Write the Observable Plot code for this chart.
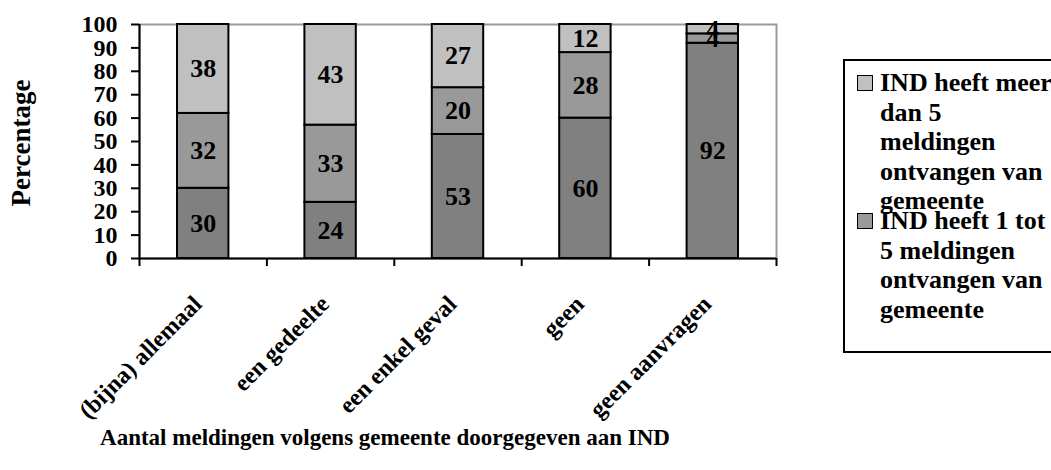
<!DOCTYPE html>
<html><head><meta charset="utf-8">
<script src="https://cdn.jsdelivr.net/npm/d3@7"></script>
<script src="https://cdn.jsdelivr.net/npm/@observablehq/plot@0.6"></script>
<style>
html,body{margin:0;padding:0;background:#fff;overflow:hidden;width:1051px;height:470px;}
#wrap{position:relative;width:1051px;height:470px;font-family:"Liberation Serif","Times New Roman",serif;font-weight:bold;color:#000;overflow:hidden;}
#wrap svg{position:absolute;left:0;top:0;}
.xtitle{position:absolute;left:0;width:770px;top:426px;line-height:24px;font-size:23px;text-align:center;white-space:nowrap;}
.ytitle{position:absolute;left:21px;top:143px;transform:translate(-50%,-50%) rotate(-90deg);font-size:27px;white-space:nowrap;line-height:27px;}
.legend{position:absolute;left:843px;top:59px;width:260px;height:294px;box-sizing:border-box;border:2px solid #000;background:#fff;}
.legend .sw{position:absolute;left:12px;width:16px;height:16px;box-sizing:border-box;border:1.5px solid #000;}
.legend .ln{position:absolute;left:35px;font-size:26px;line-height:29.5px;white-space:nowrap;}
</style></head><body><div id="wrap"></div>
<script>
const categories = ["(bijna) allemaal", "een gedeelte", "een enkel geval", "geen", "geen aanvragen"];
const seriesNames = [
  "IND heeft geen meldingen ontvangen van gemeente",
  "IND heeft 1 tot 5 meldingen ontvangen van gemeente",
  "IND heeft meer dan 5 meldingen ontvangen van gemeente"
];
const geenMeldingen = [30, 24, 53, 60, 92];
const eenTotVijf = [32, 33, 20, 28, 4];
const meerDanVijf = [38, 43, 27, 12, 4];
const yTicks = [0, 10, 20, 30, 40, 50, 60, 70, 80, 90, 100];
const xTitle = "Aantal meldingen volgens gemeente doorgegeven aan IND";
const yTitle = "Percentage";
const legendEntries = [
  {series: 2, lines: ["IND heeft meer", "dan 5", "meldingen", "ontvangen van", "gemeente"]},
  {series: 1, lines: ["IND heeft 1 tot", "5 meldingen", "ontvangen van", "gemeente"]}
];
const colors = ["#808080", "#999999", "#c0c0c0"];

const seriesValues = [geenMeldingen, eenTotVijf, meerDanVijf];
const rows = [];
categories.forEach((c, i) => {
  let acc = 0;
  seriesValues.forEach((vals, s) => {
    rows.push({cat: c, i0: i, i1: i + 1, series: seriesNames[s], value: vals[i], y1: acc, y2: acc + vals[i]});
    acc += vals[i];
  });
});

const plot = Plot.plot({
  width: 1051, height: 470,
  marginLeft: 139, marginRight: 275, marginTop: 24, marginBottom: 212,
  style: {fontFamily: '"Liberation Serif", "Times New Roman", serif', fontWeight: "bold", background: "transparent", color: "#000", overflow: "visible"},
  x: {domain: [0, categories.length], axis: null},
  y: {domain: [0, 100], axis: null},
  color: {domain: seriesNames, range: colors},
  marks: [
    Plot.frame({stroke: "#999", strokeWidth: 2}),
    Plot.rectY(rows, {x1: "i0", x2: "i1", y1: "y1", y2: "y2", fill: "series", stroke: "#000", strokeWidth: 2, insetLeft: 38, insetRight: 38}),
    Plot.axisY({ticks: yTicks, tickSize: 8, tickPadding: 14, strokeWidth: 2, fontSize: 24, label: null}),
    Plot.axisX({ticks: d3.range(categories.length + 1), tickSize: 8, tickFormat: () => "", strokeWidth: 2, label: null}),
    Plot.ruleY([0], {strokeWidth: 2}),
    Plot.ruleX([0], {strokeWidth: 2}),
    Plot.text(rows, {x: d => d.i0 + 0.5, y: d => (d.y1 + d.y2) / 2, text: "value", fontSize: 26, fill: "#000"}),
    Plot.text(categories, {x: (d, i) => i + 0.5, y: 0, dy: 47, text: d => d, rotate: -45, textAnchor: "end", lineAnchor: "bottom", fontSize: 24, fill: "#000"})
  ]
});

const wrap = document.getElementById("wrap");
wrap.appendChild(plot);

const xt = document.createElement("div");
xt.className = "xtitle"; xt.textContent = xTitle; wrap.appendChild(xt);
const yt = document.createElement("div");
yt.className = "ytitle"; yt.textContent = yTitle; wrap.appendChild(yt);

const leg = document.createElement("div");
leg.className = "legend";
const lineH = 29.5;
const entryStarts = [83, 221];
legendEntries.forEach((e, k) => {
  const c0 = entryStarts[k] - 59 - 2;
  const sw = document.createElement("div");
  sw.className = "sw";
  sw.style.top = (c0 - 8) + "px";
  sw.style.background = colors[e.series];
  leg.appendChild(sw);
  e.lines.forEach((t, j) => {
    const ln = document.createElement("div");
    ln.className = "ln";
    ln.style.top = (c0 + j * lineH - lineH / 2) + "px";
    ln.textContent = t;
    leg.appendChild(ln);
  });
});
wrap.appendChild(leg);
</script>
</body></html>
